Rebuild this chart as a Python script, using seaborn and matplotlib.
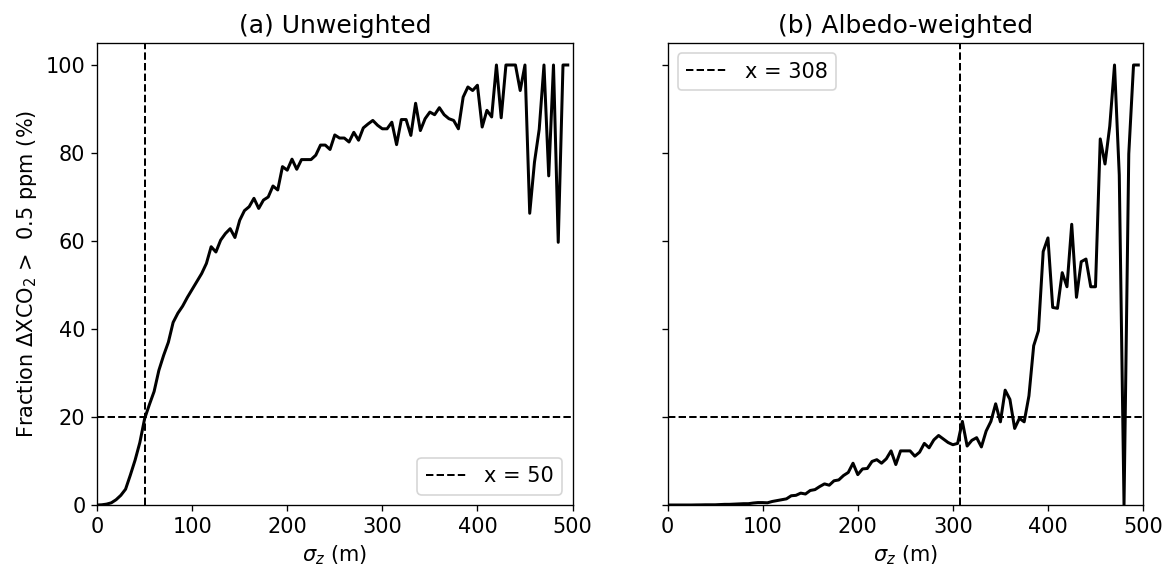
import numpy as np
import matplotlib
matplotlib.use("Agg")
import matplotlib.pyplot as plt
import seaborn as sns

# sigma_z grid (m), step 5
sigma_z = list(range(0, 500, 5))

# (a) unweighted fraction (%)
frac_unweighted = [
    0.0, 0.05, 0.2, 0.5, 1.2, 2.2, 3.6, 6.8, 10.2, 14.2,
    19.6, 22.8, 25.8, 30.6, 34.0, 37.0, 41.5, 43.6, 45.2, 47.2,
    49.0, 50.8, 52.6, 54.9, 58.7, 57.5, 60.2, 61.7, 62.8, 60.8,
    64.7, 66.9, 67.8, 69.7, 67.4, 69.3, 70.0, 72.5, 71.6, 76.9,
    76.1, 78.6, 76.3, 78.5, 78.5, 78.5, 79.5, 81.8, 81.8, 80.8,
    84.1, 83.4, 83.4, 82.5, 84.7, 82.9, 85.7, 86.6, 87.4, 86.3,
    85.5, 85.5, 87.0, 81.9, 87.6, 87.6, 84.0, 91.3, 85.1, 87.8,
    89.3, 88.7, 90.3, 88.7, 87.8, 87.4, 85.5, 92.7, 95.0, 94.2,
    95.4, 85.9, 89.7, 88.2, 100.0, 88.0, 100.0, 100.0, 100.0, 94.2,
    100.0, 66.3, 77.9, 85.4, 100.0, 74.8, 100.0, 59.7, 100.0, 100.0,
]

# (b) albedo-weighted fraction (%)
frac_weighted = [
    0.0, 0.0, 0.0, 0.0, 0.0, 0.0, 0.02, 0.03, 0.05, 0.05,
    0.05, 0.1, 0.15, 0.15, 0.2, 0.25, 0.3, 0.3, 0.45, 0.55,
    0.55, 0.5, 0.8, 1.0, 1.2, 1.4, 2.1, 2.2, 2.7, 2.5,
    3.3, 3.5, 4.2, 4.8, 4.5, 5.5, 5.7, 6.7, 7.4, 9.5,
    6.9, 8.2, 8.3, 9.9, 10.3, 9.5, 10.5, 12.3, 9.2, 12.3,
    12.3, 12.3, 11.1, 12.0, 14.0, 13.0, 14.8, 15.8, 15.0, 14.2,
    13.7, 14.0, 19.0, 13.4, 14.7, 15.3, 13.2, 16.8, 19.0, 23.0,
    18.9, 26.1, 24.0, 17.4, 19.7, 18.9, 24.8, 36.2, 39.6, 57.6,
    60.7, 44.9, 44.7, 52.8, 49.6, 63.8, 47.2, 55.3, 55.9, 49.6,
    49.6, 83.2, 77.5, 86.1, 100.0, 75.0, 0.0, 79.8, 100.0, 100.0,
]

thresholds = [50, 308]
frac_level = 20
titles = ["(a) Unweighted", "(b) Albedo-weighted"]
legend_locs = ["lower right", "upper left"]

plt.rcParams["font.size"] = 12.5

fig, axes = plt.subplots(1, 2, figsize=(1175 / 120, 581 / 120), dpi=120, sharey=True)
fig.subplots_adjust(left=0.0826, right=0.9728, top=0.926, bottom=0.1308, wspace=0.2)

for ax, frac, thr, title, loc in zip(axes, [frac_unweighted, frac_weighted],
                                     thresholds, titles, legend_locs):
    sns.lineplot(x=sigma_z, y=frac, ax=ax, color="black", linewidth=1.8)
    ax.axvline(thr, color="black", linestyle="--", linewidth=1.2, label=f"x = {thr}")
    ax.axhline(frac_level, color="black", linestyle="--", linewidth=1.2)
    ax.set_xlim(0, 500)
    ax.set_ylim(0, 105)
    ax.set_yticks([0, 20, 40, 60, 80, 100])
    ax.set_title(title, fontsize=15)
    ax.set_xlabel(r"$\sigma_z$ (m)")
    ax.legend(loc=loc)

axes[0].set_ylabel(r"Fraction $\Delta$XCO$_2$ >  0.5 ppm (%)")

fig.savefig("out.png", dpi=120)
